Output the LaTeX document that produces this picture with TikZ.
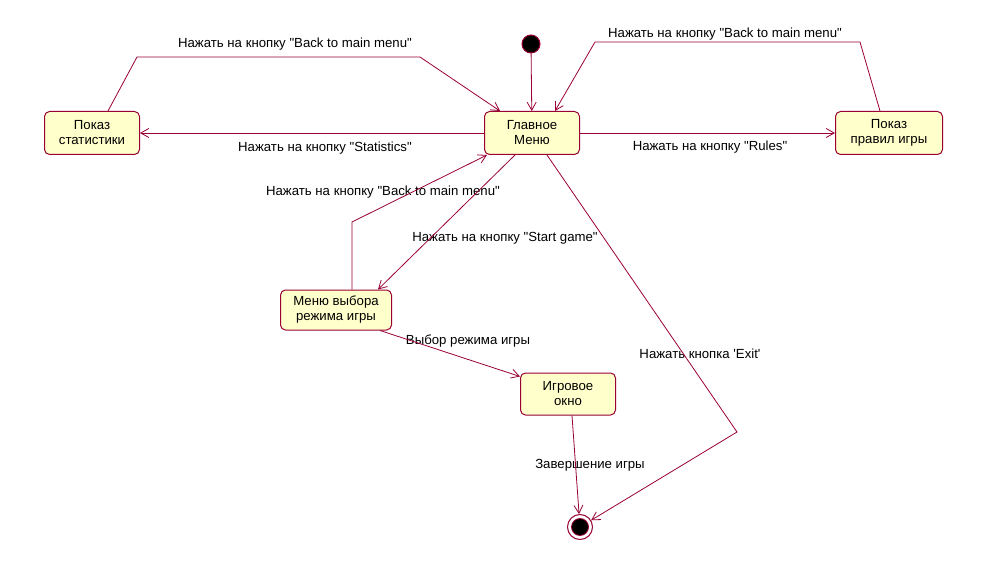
\documentclass[tikz,border=0pt]{standalone}
\usepackage{fontspec}
\setmainfont{Liberation Sans}[Ligatures=TeXOff]
\usetikzlibrary{arrows.meta,positioning}
\definecolor{umlline}{HTML}{990033}
\definecolor{umlfill}{HTML}{FFFFCC}

\begin{document}
\begin{tikzpicture}[
x=1pt, y=-1pt,
font=\fontsize{13.2}{15}\selectfont,
state/.style={draw=umlline, fill=umlfill, line width=1pt, rounded corners=5pt, minimum width=95pt, minimum height=43pt, align=center, inner sep=2pt},
lbl/.style={inner sep=1pt},
trans/.style={draw=umlline, line width=0.8pt, -{Straight Barb[length=8pt,width=9pt]}},
>=Latex
]
\useasboundingbox (0,0) rectangle (989,567);

\node[circle, fill=black, draw=umlline, line width=1pt, minimum size=18pt, inner sep=0pt] (start) at (531,44) {};
\node[state] (mainmenu) at (532,133) {Главное\\Меню};
\node[state] (stats) at (92,133) {Показ\\статистики};
\node[state, minimum width=107pt] (rules) at (889,133) {Показ\\правил игры};
\node[state, minimum width=111pt, minimum height=40pt] (modemenu) at (336,310) {Меню выбора\\режима игры};
\node[state, minimum height=42pt] (gamewin) at (568,394) {Игровое\\окно};
\node[circle, fill=white, draw=umlline, line width=1pt, minimum size=25pt, inner sep=0pt] (finish) at (580,527) {};
\node[circle, fill=black, draw=umlline, line width=0.8pt, minimum size=17pt, inner sep=0pt] at (finish.center) {};

\node[lbl] (lstatsback) at (295,44) {Нажать на кнопку "Back to main menu"};
\node[lbl] (lrulesback) at (725,34) {Нажать на кнопку "Back to main menu"};
\node[lbl] (lstats) at (325,148) {Нажать на кнопку "Statistics"};
\node[lbl] (lrules) at (710,147) {Нажать на кнопку "Rules"};
\node[lbl] (lmodeback) at (383,192) {Нажать на кнопку "Back to main menu"};
\node[lbl] (lstart) at (505,238) {Нажать на кнопку "Start game"};
\node[lbl] (lchoose) at (468,341) {Выбор режима игры};
\node[lbl] (lexit) at (700,354) {Нажать кнопка 'Exit'};
\node[lbl] (lover) at (590,465) {Завершение игры};

\draw[trans] (start) -- (mainmenu);
\draw[trans] (mainmenu) -- (stats);
\draw[trans] ([xshift=16pt]stats.north) -- (137,57) -- (420,57) -- ([xshift=-32pt]mainmenu.north);
\draw[trans] (mainmenu) -- (rules);
\draw[trans] ([xshift=-9pt]rules.north) -- (860,42) -- (595,42) -- ([xshift=23pt]mainmenu.north);
\draw[trans] ([xshift=-17pt]mainmenu.south) -- ([xshift=42pt]modemenu.north);
\draw[trans] ([xshift=16pt]modemenu.north) -- (352,222) -- ([xshift=3pt]mainmenu.south west);
\draw[trans] ([xshift=44pt]modemenu.south) -- ([yshift=-4pt]gamewin.north west);
\draw[trans] ([xshift=4pt]gamewin.south) -- (finish);
\draw[trans] ([xshift=15pt]mainmenu.south) -- (737,432) -- (finish);
\end{tikzpicture}
\end{document}
